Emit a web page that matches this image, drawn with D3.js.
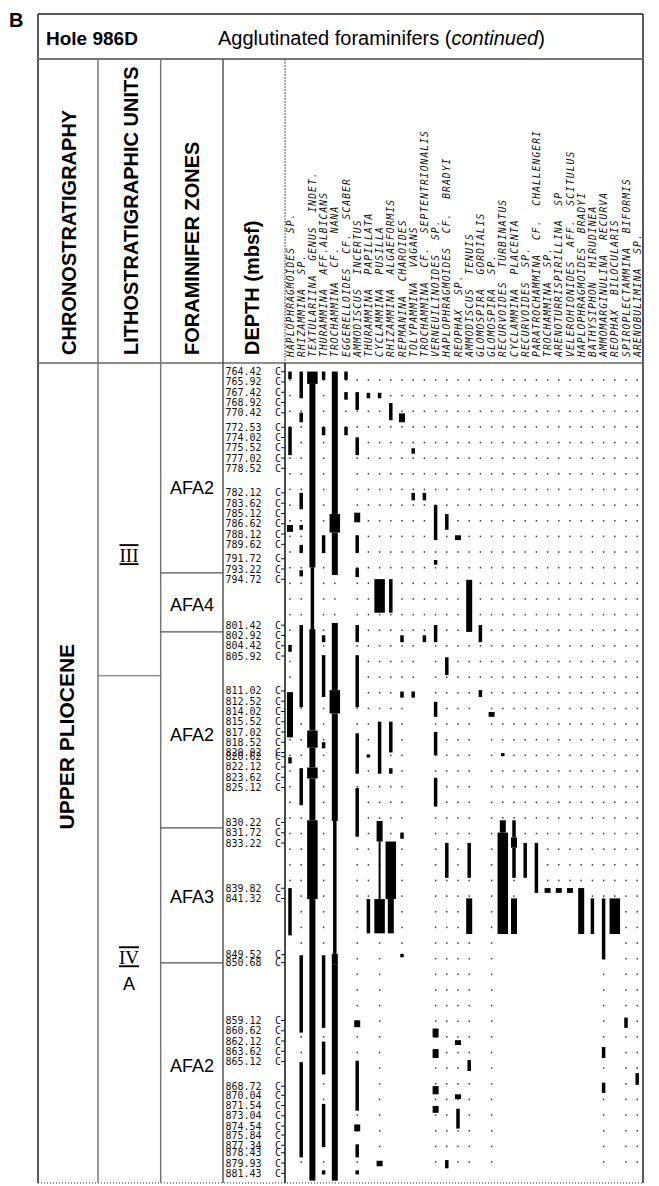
<!DOCTYPE html>
<html><head><meta charset="utf-8">
<script src="https://cdn.jsdelivr.net/npm/d3@7"></script>
<style>body{margin:0;background:#fff}svg{display:block}</style>
</head><body>
<script>
// ---------------- DATA ----------------
const species = [
 "HAPLOPHRAGMOIDES  SP.","RHIZAMMINA  SP.","TEXTULARIINA  GENUS  INDET.","THURAMMINA  AFF.ALBICANS",
 "TROCHAMMINA  CF.  NANA","EGGERELLOIDES  CF.  SCABER","AMMODISCUS  INCERTUS","THURAMMINA  PAPILLATA",
 "CYCLAMMINA  PUSILLA","RHIZAMMINA  ALGAEFORMIS","REPMANINA  CHAROIDES","TOLYPAMMINA  VAGANS",
 "TROCHAMMINA  CF.  SEPTENTRIONALIS","VERNEUILINOIDES  SP.","HAPLOPHRAGMOIDES  CF.  BRADYI","REOPHAX  SP.",
 "AMMODISCUS  TENUIS","GLOMOSPIRA  GORDIALIS","GLOMOSPIRA  SP.","RECURVOIDES  TURBINATUS",
 "CYCLAMMINA  PLACENTA","RECURVOIDES  SP.","PARATROCHAMMINA  CF.  CHALLENGERI","TROCHAMMINA  SP.",
 "ARENOTURRISPIRILLINA  SP","VELEROHIONIDES  AFF.  SCITULUS","HAPLOPHRAGMOIDES  BRADYI","BATHYSIPHON  HIRUDINEA",
 "AMMOMARGINULINA  RECURVA","REOPHAX  BILOCULARIS","SPIROPLECTAMMINA  BIFORMIS","ARENOBULIMINA  SP."
];

const depths = [764.42,765.92,767.42,768.92,770.42,772.53,774.02,775.52,777.02,778.52,
 782.12,783.62,785.12,786.62,788.12,789.62,791.72,793.22,794.72,801.42,802.92,804.42,805.92,
 811.02,812.52,814.02,815.52,817.02,818.52,820.02,820.62,822.12,823.62,825.12,830.22,831.72,
 833.22,839.82,841.32,849.52,850.68,859.12,860.62,862.12,863.62,865.12,868.72,870.04,871.54,
 873.04,874.54,875.84,877.34,878.43,879.93,881.43];

// occurrences per species: [top depth, base depth, abundance class 1-4]
const occurrences = [
 [[764.4,765.5,2],[772.5,776.6,2],[786.8,787.8,3],[804.3,805.3,2],[811.2,817.8,3],[820.7,821.6,2],[839.8,846.7,2]],
 [[764.4,768.3,2],[770.4,771.8,2],[782.1,784.5,2],[786.8,787.5,2],[789.7,790.9,2],[793.4,794.3,2],[801.4,813.4,2],[822.3,827.7,2],[849.6,860.9,2],[865.2,879.1,2]],
 [[764.4,766.2,4],[766.2,793.0,3],[793.0,802.0,2],[802.0,816.8,3],[816.8,819.3,4],[819.3,822.2,3],[822.2,823.8,4],[823.8,829.9,3],[829.9,841.4,4],[841.4,882.5,3]],
 [[764.4,765.6,2],[772.5,773.7,2],[788.3,790.9,2],[802.9,803.9,2],[805.8,811.9,2],[818.5,819.4,2],[849.6,860.2,2],[862.2,867.0,2],[871.3,877.6,2],[881.0,881.6,2]],
 [[764.4,785.2,3],[785.2,787.9,4],[787.9,794.1,3],[801.1,810.9,3],[810.9,814.3,4],[814.3,830.0,3],[830.0,849.4,2],[849.4,851.0,3],[851.0,882.5,3]],
 [[764.4,765.6,2],[767.4,768.5,2],[772.5,773.7,2]],
 [[767.4,770.0,2],[774.0,776.6,2],[785.0,786.4,3],[788.3,790.9,2],[793.1,794.4,2],[801.4,803.9,2],[805.8,813.4,2],[817.2,823.1,2],[825.2,832.3,2],[859.1,860.1,3],[865.0,872.3,2],[874.3,875.3,3],[877.2,879.1,2],[881.0,881.6,2]],
 [[767.5,768.3,2],[820.3,820.7,2],[841.4,846.4,2]],
 [[767.5,768.3,2],[794.7,799.6,4],[815.5,823.1,2],[830.0,833.0,3],[833.0,841.4,1],[841.4,846.4,4],[879.6,880.4,3]],
 [[769.0,771.5,2],[794.7,799.6,2],[815.5,820.0,2],[822.3,823.1,2],[833.0,841.4,4],[841.4,846.4,3]],
 [[770.5,771.8,3],[802.9,803.9,2],[811.1,812.0,2],[831.7,832.6,2],[849.4,849.9,2]],
 [[775.6,776.4,2],[782.1,783.2,2],[811.1,812.0,2]],
 [[782.1,783.2,2],[802.9,803.9,2]],
 [[783.9,789.0,2],[791.9,792.6,2],[801.4,803.9,2],[812.6,814.8,2],[817.0,820.4,2],[823.7,827.9,2],[860.3,861.6,3],[863.3,864.6,3],[868.7,869.9,3],[871.6,872.6,3]],
 [[785.2,787.5,2],[806.1,808.7,2],[833.2,838.3,2],[879.5,880.7,2]],
 [[788.3,789.0,3],[862.0,862.7,3],[869.9,870.6,3],[872.0,874.9,2]],
 [[794.8,802.4,3],[833.2,838.3,2],[841.3,846.5,3],[864.9,866.5,2]],
 [[801.4,803.9,2],[810.9,811.9,2]],
 [[814.1,814.8,3]],
 [[820.1,820.4,2],[829.9,831.7,3],[831.7,846.5,4]],
 [[829.9,832.4,2],[832.4,833.9,3],[833.9,838.3,2],[841.3,846.5,3]],
 [[833.2,838.3,2]],
 [[833.2,840.5,2]],
 [[839.8,840.5,3]],
 [[839.8,840.5,3]],
 [[839.8,840.5,3]],
 [[839.8,846.5,3]],
 [[841.3,846.5,2]],
 [[841.3,850.2,2],[863.0,864.6,2],[868.2,869.7,2]],
 [[841.3,846.5,4]],
 [[858.7,860.2,2]],
 [[866.8,868.5,2]]
];

// depth to which each species' dotted range extends
const rangeBase = [846.7,881.4,881.4,881.4,881.4,773.7,881.4,846.4,881.4,846.4,849.9,812.0,
 803.9,881.4,881.4,881.4,881.4,811.9,881.4,846.5,846.5,838.3,840.5,840.5,840.5,840.5,846.5,846.5,
 881.4,846.5,881.4,881.4];

const zoneNames = ["AFA2","AFA4","AFA2","AFA3","AFA2"];
const zoneTops = [763.1,793.8,802.4,831.0,850.7];
const zoneBases = [793.8,802.4,831.0,850.7,883.2];
const zoneLabelDepths = [781.4,798.5,817.4,841.1,865.8];

const lithoNames = ["III","IV"];
const lithoSubs = ["","A"];
const lithoTops = [763.1,808.8];
const lithoBases = [808.8,883.2];
const lithoLabelDepths = [791.2,849.9];

const chronoName = "UPPER PLIOCENE";
const chronoLabelDepth = 817.7;

const headers = ["CHRONOSTRATIGRAPHY","LITHOSTRATIGRAPHIC UNITS","FORAMINIFER ZONES","DEPTH (mbsf)"];
const dotStart = 765.63, dotStep = 2.283;
const abundanceWidth = [0, 2, 3.5, 6, 10.5];

// ---------------- LAYOUT ----------------
const W = 659, H = 1186;
const L = 38, R = 643, T = 14, TITLE_B = 59, HEAD_B = 363, B = 1183;
const dividers = [98, 160.7, 223, 285];
const headerBaselineX = [76, 138.3, 199.3, 259.3];

const svg = d3.select("body").append("svg").attr("width", W).attr("height", H);
const y = d3.scaleLinear().domain([764.42, 881.43]).range([371.7, 1173.3]);
const x = d3.scalePoint().domain(d3.range(species.length)).range([290, 637.2]);
const sans = "'Liberation Sans', Arial, sans-serif";
const mono = "'DejaVu Sans Mono', monospace";

// title
svg.append("text").attr("x", 9).attr("y", 27).attr("font-family", sans).attr("font-weight", "bold")
  .attr("font-size", 20).text("B");
svg.append("text").attr("x", 46).attr("y", 45).attr("font-family", sans).attr("font-weight", "bold")
  .attr("font-size", 19).text("Hole 986D");
const tt = svg.append("text").attr("x", 218).attr("y", 45).attr("font-family", sans).attr("font-size", 20);
tt.append("tspan").text("Agglutinated foraminifers (");
tt.append("tspan").attr("font-style", "italic").text("continued");
tt.append("tspan").text(")");

// frame
const g = svg.append("g");
g.append("line").attr("x1", L).attr("x2", R).attr("y1", T).attr("y2", T).attr("stroke", "#222").attr("stroke-width", 1.5);
g.append("line").attr("x1", L).attr("x2", L).attr("y1", T).attr("y2", B).attr("stroke", "#222").attr("stroke-width", 1.5);
g.append("line").attr("x1", R).attr("x2", R).attr("y1", T).attr("y2", B).attr("stroke", "#222").attr("stroke-width", 1.5);
g.append("line").attr("x1", L).attr("x2", R).attr("y1", TITLE_B).attr("y2", TITLE_B).attr("stroke", "#777").attr("stroke-width", 2);
g.append("line").attr("x1", L).attr("x2", R).attr("y1", HEAD_B).attr("y2", HEAD_B).attr("stroke", "#666").attr("stroke-width", 1.5);
g.append("line").attr("x1", L).attr("x2", R).attr("y1", B).attr("y2", B).attr("stroke", "#333")
  .attr("stroke-width", 1.2).attr("stroke-dasharray", "1,2");
dividers.forEach((dx, i) => {
  if (i < 3) {
    g.append("line").attr("x1", dx).attr("x2", dx).attr("y1", TITLE_B).attr("y2", B)
      .attr("stroke", i === 2 ? "#555" : "#777").attr("stroke-width", 1.5);
  } else {
    g.append("line").attr("x1", dx).attr("x2", dx).attr("y1", TITLE_B).attr("y2", HEAD_B)
      .attr("stroke", "#555").attr("stroke-width", 1).attr("stroke-dasharray", "2,1");
    g.append("line").attr("x1", dx).attr("x2", dx).attr("y1", HEAD_B).attr("y2", B)
      .attr("stroke", "#111").attr("stroke-width", 1.5);
  }
});

// column headers
headers.forEach((h, i) => {
  svg.append("text").attr("transform", `translate(${headerBaselineX[i]},355) rotate(-90)`)
    .attr("font-family", sans).attr("font-weight", "bold").attr("font-size", 20).text(h);
});

// species labels
svg.append("g").selectAll("text").data(species).join("text")
  .attr("transform", (d, i) => `translate(${x(i)},357) rotate(-90)`)
  .attr("font-family", mono).attr("font-style", "oblique").attr("font-size", 9.6)
  .attr("dominant-baseline", "central")
  .style("letter-spacing", "1.1px").style("white-space", "pre").attr("fill", "#111").text(d => d);

// chrono
svg.append("text").attr("transform", `translate(74,${y(chronoLabelDepth)}) rotate(-90)`)
  .attr("text-anchor", "middle").attr("font-family", sans).attr("font-weight", "bold")
  .attr("font-size", 21).text(chronoName);

// litho units
lithoNames.forEach((n, i) => {
  if (i > 0) g.append("line").attr("x1", dividers[0]).attr("x2", dividers[1])
    .attr("y1", y(lithoTops[i])).attr("y2", y(lithoTops[i])).attr("stroke", "#666").attr("stroke-width", 1.2);
  const ly = y(lithoLabelDepths[i]);
  svg.append("text").attr("x", 129).attr("y", ly + 7).attr("text-anchor", "middle")
    .attr("font-family", "'Liberation Serif', serif").attr("font-size", 19)
    .style("text-decoration", "underline overline").text(n);
  if (lithoSubs[i]) svg.append("text").attr("x", 129).attr("y", ly + 33).attr("text-anchor", "middle")
    .attr("font-family", sans).attr("font-size", 18).text(lithoSubs[i]);
});

// foraminifer zones
zoneNames.forEach((n, i) => {
  if (i > 0) g.append("line").attr("x1", dividers[1]).attr("x2", dividers[2])
    .attr("y1", y(zoneTops[i])).attr("y2", y(zoneTops[i])).attr("stroke", "#555").attr("stroke-width", 1.2);
  svg.append("text").attr("x", 192).attr("y", y(zoneLabelDepths[i])).attr("text-anchor", "middle")
    .attr("dominant-baseline", "central").attr("font-family", sans).attr("font-size", 18).text(n);
});

// depth labels
const dl = svg.append("g").attr("font-family", mono).attr("font-size", 10).attr("fill", "#111");
dl.selectAll("text.d").data(depths).join("text").attr("class", "d")
  .attr("x", 225.5).attr("y", d => y(d)).attr("dominant-baseline", "central")
  .text(d => d.toFixed(2));
dl.selectAll("text.c").data(depths).join("text").attr("class", "c")
  .attr("x", 275).attr("y", d => y(d)).attr("dominant-baseline", "central").text("C");
dl.selectAll("line").data(depths).join("line")
  .attr("x1", 281).attr("x2", 285).attr("y1", d => y(d)).attr("y2", d => y(d))
  .attr("stroke", "#111").attr("stroke-width", 1);

// dots
const dots = [];
species.forEach((s, i) => {
  d3.range(dotStart, rangeBase[i] + 0.01, dotStep).forEach(d => dots.push({i, d}));
});
svg.append("g").selectAll("rect").data(dots).join("rect")
  .attr("x", d => x(d.i) - 0.7).attr("y", d => y(d.d) - 0.8)
  .attr("width", 1.4).attr("height", 1.6).attr("fill", "#333");

// bars
const bars = [];
occurrences.forEach((list, i) => list.forEach(o => bars.push({i, top: o[0], base: o[1], c: o[2]})));
svg.append("g").selectAll("rect").data(bars).join("rect")
  .attr("x", d => x(d.i) - abundanceWidth[d.c] / 2)
  .attr("width", d => abundanceWidth[d.c])
  .attr("y", d => y(d.top))
  .attr("height", d => Math.max(y(d.base) - y(d.top), 3))
  .attr("fill", "#000");
</script>
</body></html>
